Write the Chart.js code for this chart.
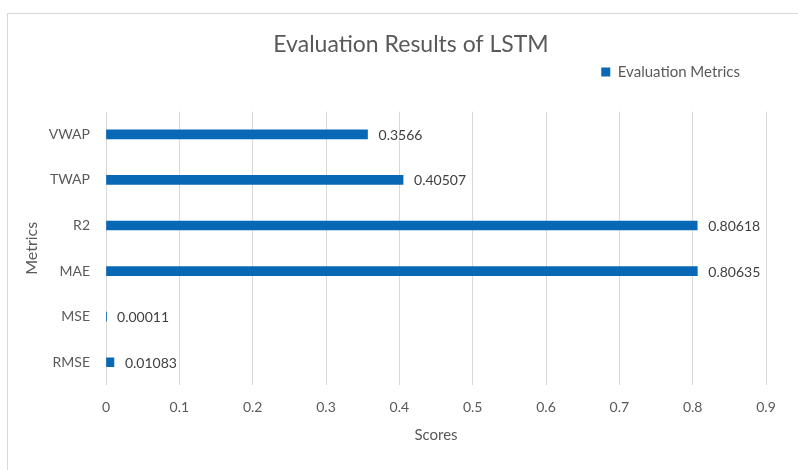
<!DOCTYPE html>
<html>
<head>
<meta charset="utf-8">
<script src="https://cdn.jsdelivr.net/npm/chart.js@4/dist/chart.umd.min.js"></script>
<style>
  html, body { margin: 0; padding: 0; background: #fff; overflow: hidden; width: 798px; height: 470px; }
  #frame { position: absolute; left: 7px; top: 13px; width: 806px; height: 470px; border: 1px solid #d9d9d9; }
  canvas { display: block; }
</style>
</head>
<body>
<div id="frame"><canvas id="lstmChart" width="806" height="470"></canvas></div>
<script>
// data, top row first
const metrics = ["VWAP", "TWAP", "R2", "MAE", "MSE", "RMSE"];
const scores = [0.3566, 0.40507, 0.80618, 0.80635, 0.00011, 0.01083];
const scoreTicks = [0, 0.1, 0.2, 0.3, 0.4, 0.5, 0.6, 0.7, 0.8, 0.9];

const textGray = "#595959";
const barBlue = "#0868b6";
const fontFamily = "Lato, 'Open Sans', sans-serif";

// value labels next to each bar
const valueLabels = {
  id: "valueLabels",
  afterDatasetsDraw(chart) {
    const ctx = chart.ctx;
    const meta = chart.getDatasetMeta(0);
    ctx.save();
    ctx.font = "14px " + fontFamily;
    ctx.fillStyle = "#404040";
    ctx.textBaseline = "middle";
    ctx.textAlign = "left";
    meta.data.forEach(function(bar, i) {
      ctx.fillText(String(scores[i]), bar.x + 11, bar.y + 1);
    });
    ctx.restore();
  }
};

new Chart(document.getElementById("lstmChart"), {
  type: "bar",
  data: {
    labels: metrics,
    datasets: [
      {
        label: "Evaluation Metrics",
        data: scores,
        backgroundColor: barBlue,
        borderWidth: 0,
        barThickness: 9
      }
    ]
  },
  options: {
    indexAxis: "y",
    responsive: false,
    animation: false,
    layout: { padding: 0 },
    plugins: {
      tooltip: { enabled: false },
      title: {
        display: true,
        text: "Evaluation Results of LSTM",
        color: textGray,
        font: { family: fontFamily, size: 23, weight: "normal", lineHeight: 1.2 },
        padding: { top: 17, bottom: -20 }
      },
      legend: {
        display: true,
        position: "top",
        align: "end",
        fullSize: false,
        labels: {
          boxWidth: 9,
          boxHeight: 9,
          padding: 26,
          color: textGray,
          font: { family: fontFamily, size: 15 }
        }
      }
    },
    scales: {
      x: {
        min: 0,
        max: 0.9,
        afterBuildTicks: function(scale) {
          scale.ticks = scoreTicks.map(function(v) { return { value: v }; });
        },
        afterFit: function(scale) { scale.height = 99; },
        grid: { color: "#d9d9d9", drawTicks: false },
        border: { display: false },
        ticks: {
          padding: 14,
          color: textGray,
          font: { family: fontFamily, size: 14 },
          callback: function(v) { return String(Number(v.toFixed(1))); }
        },
        title: {
          display: true,
          text: "Scores",
          color: textGray,
          font: { family: fontFamily, size: 15 },
          padding: { top: 0, bottom: 40 }
        }
      },
      // empty band between legend and plot
      xGap: {
        type: "linear",
        axis: "x",
        position: "top",
        afterFit: function(scale) { scale.height = 22; },
        grid: { display: false, drawTicks: false },
        border: { display: false },
        ticks: { display: false }
      },
      y: {
        afterFit: function(scale) { scale.width = 98; },
        grid: { display: false, drawTicks: false },
        border: { display: false },
        ticks: {
          padding: 16,
          color: textGray,
          font: { family: fontFamily, size: 14 }
        },
        title: {
          display: true,
          text: "Metrics",
          color: textGray,
          font: { family: fontFamily, size: 16 },
          padding: { top: 14, bottom: 0 }
        }
      },
      y2: {
        position: "right",
        afterFit: function(scale) { scale.width = 48; },
        grid: { display: false, drawTicks: false },
        border: { display: false },
        ticks: { display: false }
      }
    }
  },
  plugins: [valueLabels]
});
</script>
</body>
</html>
